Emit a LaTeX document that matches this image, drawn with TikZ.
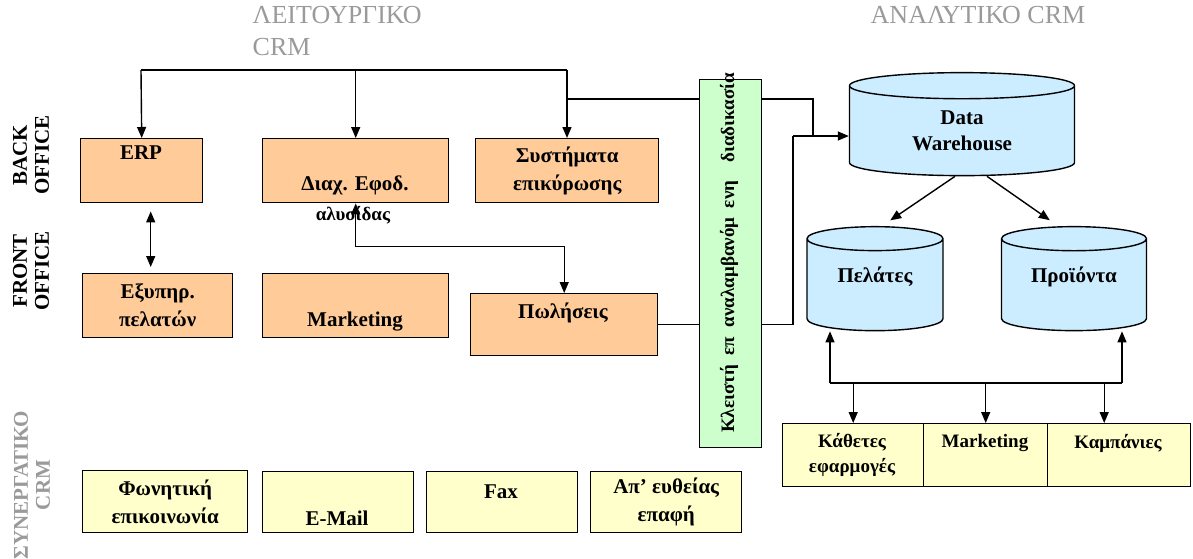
\documentclass[tikz,border=0pt]{standalone}
\usepackage{fontspec}
\setmainfont{Liberation Serif}
\usetikzlibrary{shapes.geometric,arrows.meta}

\definecolor{boxorange}{HTML}{FFCC99}
\definecolor{boxyellow}{HTML}{FFFFCC}
\definecolor{bargreen}{HTML}{CCFFCC}
\definecolor{dbblue}{HTML}{CCECFF}
\definecolor{headgray}{HTML}{9A9A9A}

\tikzset{
  obox/.style={draw, fill=boxorange, anchor=north west, inner sep=0pt},
  ybox/.style={draw, fill=boxyellow, anchor=north west, inner sep=0pt},
  txt/.style={font=\bfseries\fontsize{21}{28}\selectfont, align=center, inner sep=0pt},
  smalltxt/.style={font=\bfseries\fontsize{19}{25}\selectfont, align=center, inner sep=0pt},
  head/.style={font=\fontsize{26}{32}\selectfont, text=headgray, align=left, inner sep=0pt},
  side/.style={font=\bfseries\fontsize{21}{22}\selectfont, rotate=90, align=center, inner sep=0pt},
  db/.style={cylinder, shape border rotate=90, draw, fill=dbblue, inner sep=0pt, align=center}
}

\begin{document}
\begin{tikzpicture}[x=1pt, y=-1pt, line width=1.4pt,
    >={Triangle[width=9pt,length=11pt]}]
  \useasboundingbox (0,0) rectangle (1193,558);

  \node[head, anchor=north west] (lhead) at (252,6) {ΛΕΙΤΟΥΡΓΙΚΟ\\CRM};
  \node[head, anchor=north west] (ahead) at (870,6) {ΑΝΑΛΥΤΙΚΟ CRM};

  \node[side] (back) at (31,155) {BACK\\OFFICE};
  \node[side] (front) at (31,271) {FRONT\\OFFICE};
  \node[side, text=headgray] (syn) at (32,485) {ΣΥΝΕΡΓΑΤΙΚΟ\\CRM};

  % back office
  \node[obox, minimum width=122pt, minimum height=64pt] (erp) at (80,138) {};
  \node[txt] (erp-t) at (141,153) {ERP};
  \node[obox, minimum width=186pt, minimum height=64pt] (diax) at (262,138) {};
  \node[txt] (diax-t) at (355,185) {Διαχ. Εφοδ.};
  \node[smalltxt] (diax-t2) at (353,215) {αλυσίδας};
  \node[obox, minimum width=183pt, minimum height=64pt] (syst) at (475,138) {};
  \node[txt] (syst-t) at (syst.center) {Συστήματα\\επικύρωσης};

  % front office
  \node[obox, minimum width=150pt, minimum height=64pt] (exyp) at (82,273) {};
  \node[txt] (exyp-t) at (exyp.center) {Εξυπηρ.\\πελατών};
  \node[obox, minimum width=186pt, minimum height=64pt] (mark) at (262,273) {};
  \node[txt] (mark-t) at (355,322) {Marketing};
  \node[obox, minimum width=187pt, minimum height=62pt] (pol) at (470,293) {};
  \node[txt] (pol-t) at (563,313) {Πωλήσεις};

  % collaborative
  \node[ybox, minimum width=165pt, minimum height=62pt] (fon) at (82,470) {};
  \node[txt] (fon-t) at (fon.center) {Φωνητική\\επικοινωνία};
  \node[ybox, minimum width=151pt, minimum height=61pt] (email) at (262,471) {};
  \node[txt] (email-t) at (337,518) {E-Mail};
  \node[ybox, minimum width=151pt, minimum height=61pt] (fax) at (426,471) {};
  \node[txt] (fax-t) at (501,492) {Fax};
  \node[ybox, minimum width=151pt, minimum height=61pt] (apeu) at (590,471) {};
  \node[txt] (apeu-t) at (apeu.center) {Απ’ ευθείας\\επαφή};

  % closed loop
  \node[draw, fill=bargreen, anchor=north west, minimum width=62pt, minimum height=368pt,
    inner sep=0pt] (bar) at (699,79) {};
  \node[smalltxt, rotate=90] (bar-t) at (729,253)
    {Κλειστή \ επ \ αναλαμβανόμ \ ενη\hspace{18pt}διαδικασία};

  % analytical
  \node[db, text width=225pt, minimum height=103pt, aspect=0.116,
    font=\bfseries\fontsize{21}{26}\selectfont] (dw) at (962,131) {Data\\Warehouse};
  \node[db, text width=136pt, minimum height=104pt, aspect=0.176] (pel) at (875,285) {};
  \node[txt] (pel-t) at (875,277) {Πελάτες};
  \node[db, text width=145pt, minimum height=104pt, aspect=0.166] (pro) at (1074,285) {};
  \node[txt] (pro-t) at (1074,277) {Προϊόντα};

  \node[ybox, minimum width=141pt, minimum height=63pt] (kath) at (782,423) {};
  \node[smalltxt] (kath-t) at (852,455) {Κάθετες\\εφαρμογές};
  \node[ybox, minimum width=124pt, minimum height=63pt] (mark2) at (923,423) {};
  \node[smalltxt] (mark2-t) at (985,443) {Marketing};
  \node[ybox, minimum width=143pt, minimum height=63pt] (kamp) at (1047,423) {};
  \node[smalltxt] (kamp-t) at (1118,443) {Καμπάνιες};

  % connectors
  \coordinate (tl) at (141,70);
  \coordinate (tr) at (567,70);
  \coordinate (j1) at (567,99);
  \coordinate (k1) at (793,136);
  \draw (tl) -- (tr);
  \draw[->] (tl) -- (erp.north);
  \draw[->] (diax.north |- tl) -- (diax.north);
  \draw[->] (tr) -- (tr |- syst.north);
  \draw (bar.west |- j1) -- (j1);
  \draw (bar.east |- j1) -| (k1 -| 813,0);
  \draw[->] (k1) -- (k1 -| dw.west);
  \draw (pol.east) -- (bar.west |- pol.east);
  \draw (bar.east |- pol.east) -| (k1);

  \draw[<->, shorten <=8pt, shorten >=6pt] ([xshift=9pt]erp.south) -- ([xshift=9pt]erp.south |- exyp.north);
  \draw[<->] (diax.south) -- ++(0,43) -| (pol.north);

  \draw[->, shorten >=10pt] ([xshift=-7pt]dw.south) -- ([xshift=7pt]pel.north);
  \draw[->, shorten >=10pt] ([xshift=25pt]dw.south) -- ([xshift=-16pt]pro.north);

  \coordinate (bl) at (830,383);
  \coordinate (br) at (1122,383);
  \draw (bl) -- (br);
  \draw[->] (bl) -- (bl |- pel.south);
  \draw[->] (br) -- (br |- pro.south);
  \draw[->] (bl -| kath.north) -- (kath.north);
  \draw[->] (bl -| mark2.north) -- (mark2.north);
  \draw[->] ([xshift=-15pt]kamp.north |- bl) -- ([xshift=-15pt]kamp.north);
\end{tikzpicture}
\end{document}
